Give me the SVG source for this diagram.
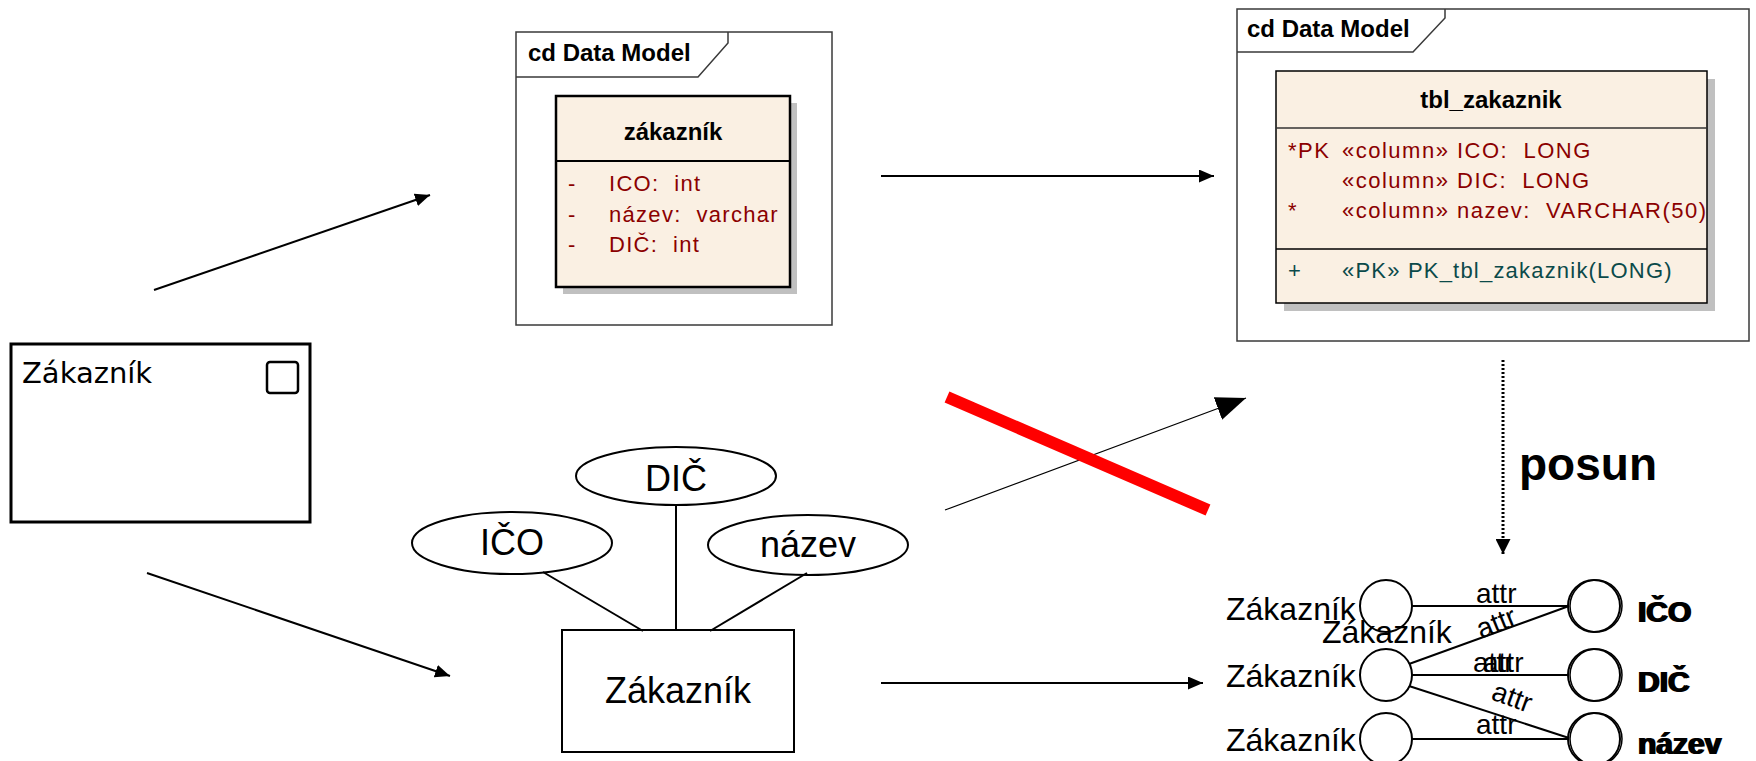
<svg xmlns="http://www.w3.org/2000/svg" width="1756" height="761" viewBox="0 0 1756 761">
  <style>
    text { white-space: pre; }
    .frame { fill: #ffffff; stroke: #3a3a3a; stroke-width: 1.5; }
    .tab { fill: none; stroke: #3a3a3a; stroke-width: 1.5; }
    .ftitle { font-family: "Liberation Sans", Arial, sans-serif; font-weight: bold; font-size: 24px; fill: #000; }
    .cls { fill: #faf0e3; stroke: #000; }
    .shadow { fill: #c0c0c0; stroke: none; }
    .ctitle { font-family: "Liberation Sans", Arial, sans-serif; font-weight: bold; font-size: 24px; fill: #000; text-anchor: middle; }
    .attr { font-family: "Liberation Sans", Arial, sans-serif; font-size: 22px; fill: #8b0000; letter-spacing: 1.3px; }
    .col { font-family: "Liberation Sans", Arial, sans-serif; font-size: 22px; fill: #8b0000; letter-spacing: 1.5px; }
    .op { font-family: "Liberation Sans", Arial, sans-serif; font-size: 22px; fill: #0b4a4a; letter-spacing: 1.2px; }
    .plain { fill: #fff; stroke: #000; stroke-width: 2; }
    .er { font-family: "Liberation Sans", Arial, sans-serif; font-size: 36px; fill: #000; text-anchor: middle; }
    .lbl { font-family: "Liberation Sans", Arial, sans-serif; font-size: 32px; fill: #000; }
    .rel { font-family: "Liberation Sans", Arial, sans-serif; font-size: 28px; fill: #000; }
    .bold { font-family: "Liberation Sans", Arial, sans-serif; font-weight: bold; font-size: 30px; fill: #000; }
    .conn { stroke: #000; stroke-width: 2; fill: none; }
    .edge { stroke: #000; stroke-width: 2; fill: none; }
  </style>
  <defs>
    <marker id="arr" markerUnits="userSpaceOnUse" markerWidth="15" markerHeight="13" refX="15" refY="6.5" orient="auto">
      <path d="M0,0 L15,6.5 L0,13 z" fill="#000"/>
    </marker>
    <marker id="arrBig" markerUnits="userSpaceOnUse" markerWidth="30" markerHeight="24" refX="30" refY="12" orient="auto">
      <path d="M0,0 L30,12 L0,24 z" fill="#000"/>
    </marker>
    <marker id="arrDown" markerUnits="userSpaceOnUse" markerWidth="15" markerHeight="15" refX="15" refY="7.5" orient="auto">
      <path d="M0,0 L15,7.5 L0,15 z" fill="#000"/>
    </marker>
  </defs>

  <rect width="1756" height="761" fill="#ffffff"/>

  <!-- UML class diagram frame -->
  <g id="frame-class">
    <rect class="frame" x="516" y="32" width="316" height="293"/>
    <path class="tab" d="M516,77 H698 L728,43 V32"/>
    <text class="ftitle" x="528" y="61">cd Data Model</text>
  </g>
  <g id="class-zakaznik">
    <rect class="shadow" x="563" y="103" width="234" height="191"/>
    <rect class="cls" x="556" y="96" width="234" height="191" stroke-width="2.5"/>
    <line x1="556" y1="161" x2="790" y2="161" stroke="#000" stroke-width="2"/>
    <text class="ctitle" x="673" y="140">zákazník</text>
    <text class="attr" x="568" y="191">-</text>
    <text class="attr" x="609" y="191">ICO:  int</text>
    <text class="attr" x="568" y="222">-</text>
    <text class="attr" x="609" y="222">název:  varchar</text>
    <text class="attr" x="568" y="252">-</text>
    <text class="attr" x="609" y="252">DIČ:  int</text>
  </g>

  <!-- physical data model frame -->
  <g id="frame-table">
    <rect class="frame" x="1237" y="9" width="512" height="332"/>
    <path class="tab" d="M1237,52 H1413 L1445,18 V9"/>
    <text class="ftitle" x="1247" y="37">cd Data Model</text>
  </g>
  <g id="table-tbl_zakaznik">
    <rect class="shadow" x="1284" y="79" width="431" height="232"/>
    <rect class="cls" x="1276" y="71" width="431" height="232" stroke="#333" stroke-width="1.5"/>
    <line x1="1276" y1="128" x2="1707" y2="128" stroke="#333" stroke-width="1.5"/>
    <line x1="1276" y1="249" x2="1707" y2="249" stroke="#000" stroke-width="1.5"/>
    <text class="ctitle" x="1491" y="108">tbl_zakaznik</text>
    <text class="col" x="1288" y="158" letter-spacing="0">*PK</text>
    <text class="col" x="1342" y="158">«column» ICO:  LONG</text>
    <text class="col" x="1342" y="188">«column» DIC:  LONG</text>
    <text class="col" x="1288" y="218">*</text>
    <text class="col" x="1342" y="218">«column» nazev:  VARCHAR(50)</text>
    <text class="op" x="1288" y="278">+</text>
    <text class="op" x="1342" y="278">«PK» PK_tbl_zakaznik(LONG)</text>
  </g>

  <!-- business object -->
  <g id="object-zakaznik">
    <rect x="11" y="344" width="299" height="178" fill="#fff" stroke="#000" stroke-width="3"/>
    <rect x="267" y="362" width="31" height="31" rx="3" fill="#fff" stroke="#000" stroke-width="2.5"/>
    <text x="22" y="383" font-family="DejaVu Sans, Verdana, sans-serif" font-size="29">Zákazník</text>
  </g>

  <!-- ER entity with attributes -->
  <g id="er-entity">
    <rect class="plain" x="562" y="630" width="232" height="122"/>
    <text class="er" x="678" y="703">Zákazník</text>
  </g>
  <g id="er-attr-ico">
    <ellipse class="plain" cx="512" cy="543" rx="100" ry="31"/>
    <text class="er" x="512" y="555">IČO</text>
  </g>
  <g id="er-attr-dic">
    <ellipse class="plain" cx="676" cy="476" rx="100" ry="29"/>
    <text class="er" x="676" y="491">DIČ</text>
  </g>
  <g id="er-attr-nazev">
    <ellipse class="plain" cx="808" cy="545" rx="100" ry="30"/>
    <text class="er" x="808" y="557">název</text>
  </g>

  <!-- graph notation -->
  <g id="graph-nodes">
    <circle class="plain" cx="1386" cy="606" r="26"/>
    <circle class="plain" cx="1386" cy="675" r="26"/>
    <circle class="plain" cx="1386" cy="739" r="26"/>
    <circle class="plain" cx="1594" cy="606" r="26"/>
    <circle cx="1596" cy="606" r="26" fill="none" stroke="#000" stroke-width="1.5"/>
    <circle class="plain" cx="1594" cy="675" r="26"/>
    <circle cx="1596" cy="675" r="26" fill="none" stroke="#000" stroke-width="1.5"/>
    <circle class="plain" cx="1594" cy="739" r="26"/>
    <circle cx="1596" cy="739" r="26" fill="none" stroke="#000" stroke-width="1.5"/>
    <text class="lbl" x="1226" y="620">Zákazník</text>
    <text class="lbl" x="1322" y="643">Zákazník</text>
    <text class="lbl" x="1226" y="687">Zákazník</text>
    <text class="lbl" x="1226" y="751">Zákazník</text>
    <text class="bold" x="1637" y="622">IČO</text>
    <text class="bold" x="1639" y="622">IČO</text>
    <text class="bold" x="1637" y="692">DIČ</text>
    <text class="bold" x="1639" y="692">DIČ</text>
    <text class="bold" x="1637" y="754">název</text>
    <text class="bold" x="1639" y="754">název</text>
  </g>
  <g id="graph-edges">
    <line class="edge" x1="1412" y1="606" x2="1568" y2="606"/>
    <line class="edge" x1="1409" y1="664" x2="1569" y2="606"/>
    <line class="edge" x1="1412" y1="675" x2="1568" y2="675"/>
    <line class="edge" x1="1409" y1="686" x2="1569" y2="738"/>
    <line class="edge" x1="1412" y1="739" x2="1568" y2="739"/>
    <text class="rel" x="1476" y="603">attr</text>
    <text class="rel" x="0" y="0" transform="translate(1481,639) rotate(-22)">attr</text>
    <text class="rel" x="1473" y="672">attr</text>
    <text class="rel" x="1483" y="672">attr</text>
    <text class="rel" x="0" y="0" transform="translate(1490,699) rotate(20)">attr</text>
    <text class="rel" x="1476" y="734">attr</text>
  </g>

  <!-- transformation arrows and ER attribute links -->
  <g id="connectors">
    <line class="conn" x1="543" y1="572" x2="643" y2="631"/>
    <line class="conn" x1="676" y1="505" x2="676" y2="630"/>
    <line class="conn" x1="807" y1="573" x2="710" y2="631"/>
    <line class="conn" x1="154" y1="290" x2="430" y2="195" marker-end="url(#arr)"/>
    <line class="conn" x1="881" y1="176" x2="1214" y2="176" marker-end="url(#arr)"/>
    <line class="conn" x1="147" y1="573" x2="450" y2="676" marker-end="url(#arr)"/>
    <line class="conn" x1="881" y1="683" x2="1203" y2="683" marker-end="url(#arr)"/>
    <line x1="945" y1="510" x2="1246" y2="398" stroke="#000" stroke-width="1.2" marker-end="url(#arrBig)"/>
    <line x1="1503" y1="360" x2="1503" y2="554" stroke="#000" stroke-width="3" stroke-dasharray="2 2" marker-end="url(#arrDown)"/>
    <line x1="947" y1="397" x2="1208" y2="510" stroke="#ff0000" stroke-width="12"/>
    <text x="1519" y="480" font-family="Liberation Sans, Arial, sans-serif" font-weight="bold" font-size="46">posun</text>
  </g>
</svg>
